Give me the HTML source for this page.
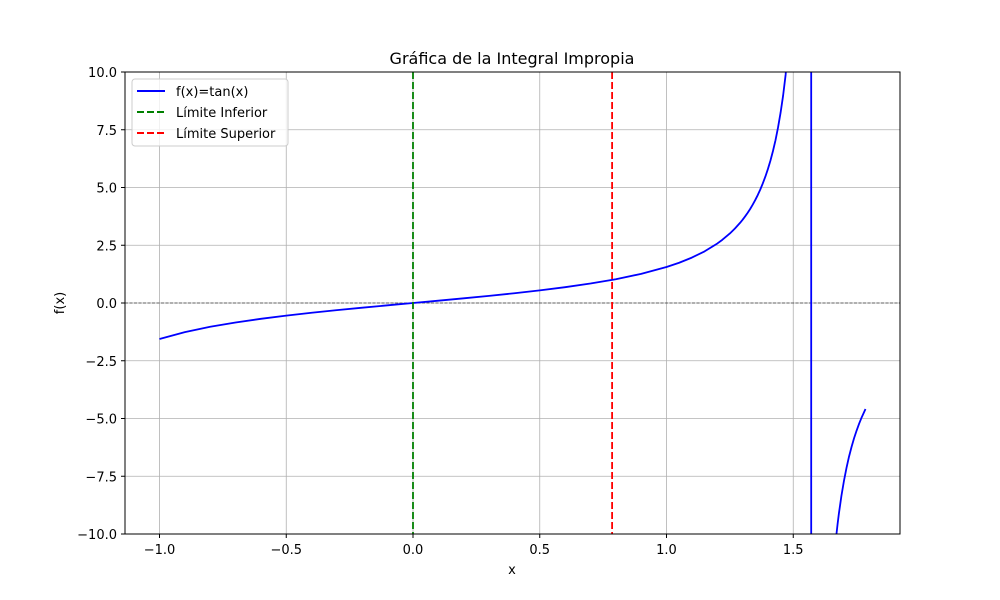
<!DOCTYPE html>
<html><head><meta charset="utf-8"><style>html,body{margin:0;background:#fff;width:1000px;height:600px;overflow:hidden}svg{display:block;font-family:"DejaVu Sans","Liberation Sans",sans-serif}</style></head>
<body>
<svg id="chart" width="1000" height="600">
<rect width="1000" height="600" fill="#fff"/>
<defs><clipPath id="clip"><rect x="125" y="72" width="775" height="462"/></clipPath></defs>
<g id="grid"></g>
<g id="series" clip-path="url(#clip)"></g>
<rect x="125" y="72" width="775" height="462" fill="none" stroke="#000" stroke-width="1"/>
<g id="ticks"></g>
<text x="512" y="64" text-anchor="middle" font-size="16">Gráfica de la Integral Impropia</text>
<text x="512" y="574" text-anchor="middle" font-size="13">x</text>
<text transform="translate(64,303) rotate(-90)" text-anchor="middle" font-size="13">f(x)</text>
<g>
<rect x="132" y="79" width="156" height="67" fill="#fff" fill-opacity="0.8" stroke="#ccc" rx="3"/>
<g><line x1="137" y1="91" x2="165" y2="91" stroke="blue" stroke-width="2"/><text x="176" y="96" font-size="13">f(x)=tan(x)</text></g>
<g><line x1="137" y1="112" x2="165" y2="112" stroke="green" stroke-width="2" stroke-dasharray="7,3"/><text x="176" y="117" font-size="13">Límite Inferior</text></g>
<g><line x1="137" y1="133" x2="165" y2="133" stroke="red" stroke-width="2" stroke-dasharray="7,3"/><text x="176" y="138" font-size="13">Límite Superior</text></g>
</g>
</svg>
<script>
const xs=[-1.0,-0.9,-0.8,-0.7,-0.6,-0.5,-0.4,-0.3,-0.2,-0.1,0,0.1,0.2,0.3,0.4,0.5,0.6,0.7,0.8,0.9,1.0,1.05,1.1,1.15,1.2,1.22,1.25,1.27,1.29,1.3,1.31,1.32,1.33,1.34,1.35,1.36,1.37,1.38,1.39,1.4,1.41,1.42,1.43,1.44,1.45,1.46,1.47,1.48,1.5,1.55,1.5705,1.5711,1.6,1.65,1.66,1.67,1.675,1.68,1.69,1.7,1.71,1.72,1.73,1.74,1.75,1.76,1.77,1.785];
const ys=[-1.5574,-1.2602,-1.0296,-0.8423,-0.6841,-0.5463,-0.4228,-0.3093,-0.2027,-0.1003,0,0.1003,0.2027,0.3093,0.4228,0.5463,0.6841,0.8423,1.0296,1.2602,1.5574,1.7433,1.9648,2.2345,2.5722,2.734,3.0096,3.226,3.467,3.6021,3.748,3.903,4.07,4.256,4.4552,4.673,4.913,5.18,5.471,5.7979,6.165,6.58,7.05,7.60,8.238,8.98,9.887,11.38,14.10,48.08,3333,-3333,-34.23,-12.61,-11.03,-10.05,-9.56,-9.12,-8.35,-7.70,-7.14,-6.65,-6.23,-5.85,-5.52,-5.22,-4.95,-4.59];
const lowerLimit=0, upperLimit=0.7854;
const xTicks=[-1.0,-0.5,0.0,0.5,1.0,1.5];
const yTicks=[-10.0,-7.5,-5.0,-2.5,0.0,2.5,5.0,7.5,10.0];
const X=v=>413+v*253.5, Y=v=>303-v*23.1;
const NS="http://www.w3.org/2000/svg";
function mk(t,a,p){const e=document.createElementNS(NS,t);for(const k in a)e.setAttribute(k,a[k]);p.appendChild(e);return e;}
const g=document.getElementById('grid'),tk=document.getElementById('ticks'),s=document.getElementById('series');
xTicks.forEach(v=>{const l=mk('line',{x1:X(v),x2:X(v),y1:72,y2:534,stroke:'#b0b0b0','stroke-width':0.8},g);


mk('line',{x1:X(v),x2:X(v),y1:534,y2:538,stroke:'#000'},tk);
const t=mk('text',{x:X(v),y:554,'text-anchor':'middle','font-size':13},tk);t.textContent=(v<0?'−':'')+Math.abs(v).toFixed(1);

});
yTicks.forEach(v=>{const l=mk('line',{x1:125,x2:900,y1:Y(v),y2:Y(v),stroke:'#b0b0b0','stroke-width':0.8},g);


mk('line',{x1:121,x2:125,y1:Y(v),y2:Y(v),stroke:'#000'},tk);
const t=mk('text',{x:117,y:Y(v)+5,'text-anchor':'end','font-size':13},tk);t.textContent=(v<0?'−':'')+Math.abs(v).toFixed(1);

});
const z=mk('line',{x1:125,x2:900,y1:Y(0),y2:Y(0),stroke:'#000','stroke-width':0.6,'stroke-dasharray':'3,1.5'},s);


const p=mk('polyline',{points:xs.map((x,i)=>X(x)+','+Y(ys[i])).join(' '),fill:'none',stroke:'blue','stroke-width':1.8,'stroke-linejoin':'round'},s);


const lo=mk('line',{x1:X(lowerLimit),x2:X(lowerLimit),y1:72,y2:534,stroke:'green','stroke-width':1.8,'stroke-dasharray':'7,3'},s);


const up=mk('line',{x1:X(upperLimit),x2:X(upperLimit),y1:72,y2:534,stroke:'red','stroke-width':1.8,'stroke-dasharray':'7,3'},s);


</script>
</body></html>
